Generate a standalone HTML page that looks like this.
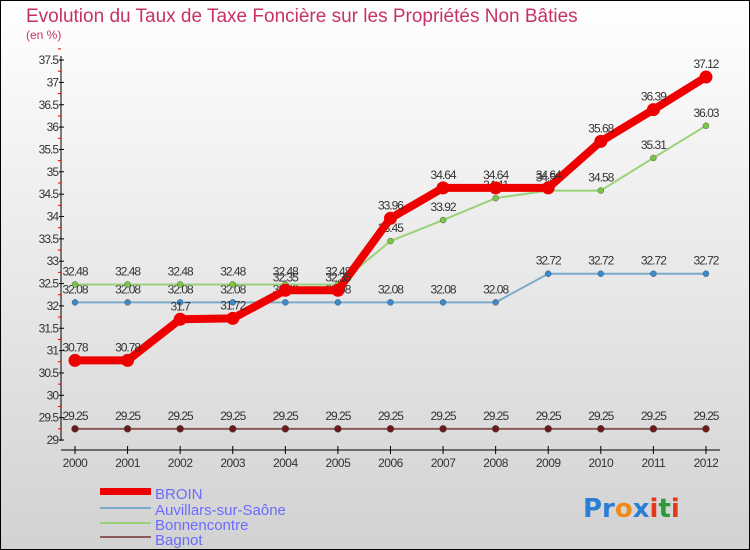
<!DOCTYPE html>
<html><head><meta charset="utf-8"><style>
body{margin:0}
#c{width:750px;height:550px;position:relative;box-sizing:border-box;border:1px solid #000;background:linear-gradient(#fff,#d2d2d2);font-family:"Liberation Sans",sans-serif;overflow:hidden}
</style></head><body>
<div id="c">
<svg id="s" width="750" height="550" style="position:absolute;left:-1px;top:-1px">
<text x="26" y="22" font-size="19" fill="#c8306a">Evolution du Taux de Taxe Foncière sur les Propriétés Non Bâties</text>
<text x="26" y="39" font-size="12" fill="#c8306a">(en %)</text>
<g id="axes"></g><g id="series"></g>
<g>
<rect x="100" y="488" width="51" height="7" fill="#e00"/>
<text x="155" y="499" font-size="15" fill="#6b6bff">BROIN</text>
<rect x="100" y="507" width="51" height="2" fill="#7aaccc"/>
<text x="155" y="515" font-size="15" fill="#6b6bff">Auvillars-sur-Saône</text>
<rect x="100" y="522" width="51" height="2" fill="#9ad27a"/>
<text x="155" y="530" font-size="15" fill="#6b6bff">Bonnencontre</text>
<rect x="100" y="536" width="51" height="2" fill="#8a5a5a"/>
<text x="155" y="545" font-size="15" fill="#6b6bff">Bagnot</text>
</g>
<text x="583" y="517" font-size="26" font-weight="bold" font-family="DejaVu Sans,sans-serif"><tspan fill="#2a7fd4">Pr</tspan><tspan fill="#f08a1a">o</tspan><tspan fill="#2a7fd4">x</tspan><tspan fill="#e03a1a">i</tspan><tspan fill="#2a9a3a">t</tspan><tspan fill="#e03a1a">i</tspan></text>
</svg>
</div>
<script>
const years=[2000,2001,2002,2003,2004,2005,2006,2007,2008,2009,2010,2011,2012];
const broin=[30.78,30.78,31.7,31.72,32.35,32.35,33.96,34.64,34.64,34.64,35.68,36.39,37.12];
const auvillars=[32.08,32.08,32.08,32.08,32.08,32.08,32.08,32.08,32.08,32.72,32.72,32.72,32.72];
const bonnencontre=[32.48,32.48,32.48,32.48,32.48,32.48,33.45,33.92,34.41,34.58,34.58,35.31,36.03];
const bagnot=[29.25,29.25,29.25,29.25,29.25,29.25,29.25,29.25,29.25,29.25,29.25,29.25,29.25];
const yTicks=[29,29.5,30,30.5,31,31.5,32,32.5,33,33.5,34,34.5,35,35.5,36,36.5,37,37.5];
const NS='http://www.w3.org/2000/svg';
const X=i=>75+i*52.58, Y=v=>440-(v-29)*44.7;
function mk(t,a,p){const e=document.createElementNS(NS,t);for(const k in a)e.setAttribute(k,a[k]);p.appendChild(e);return e;}
const ax=document.getElementById('axes'), sg=document.getElementById('series');
let l=mk('line',{x1:61,y1:56,x2:61,y2:441,stroke:'#000'},ax);

l=mk('line',{x1:61,y1:450,x2:720,y2:450,stroke:'#000'},ax);

yTicks.forEach(v=>{
 mk('line',{x1:59,y1:Y(v),x2:64,y2:Y(v),stroke:'#000'},ax);
 mk('line',{x1:58,y1:Y(v+0.25),x2:61,y2:Y(v+0.25),stroke:'#e00'},ax);
 const t=mk('text',{x:58,y:Y(v)+4,'font-size':12,fill:'#333','text-anchor':'end','letter-spacing':'-1'},ax);
 t.textContent=String(v);
 
});
years.forEach((y,i)=>{
 mk('line',{x1:X(i),y1:446,x2:X(i),y2:454,stroke:'#000'},ax);
 const t=mk('text',{x:X(i),y:467,'font-size':12,fill:'#333','text-anchor':'middle','letter-spacing':'-0.5'},ax);
 t.textContent=y;
 
});
function series(name,data,color,w,r,dot){
 const g=mk('g',{},sg);
 
 mk('polyline',{points:data.map((v,i)=>X(i)+','+Y(v)).join(' '),fill:'none',stroke:color,'stroke-width':w,'stroke-linejoin':'round'},g);
 data.forEach((v,i)=>{
  const c=mk('circle',{cx:X(i),cy:Y(v),r:r,fill:dot,stroke:dot==color?'none':'#555','stroke-width':0.5},g);
  
  const t=mk('text',{x:X(i),y:Y(v)-9,'font-size':12,fill:'#333','text-anchor':'middle','letter-spacing':'-1'},g);
  t.textContent=String(v);
  
 });
}
series('bagnot',bagnot,'#8a5a5a',2,3.5,'#6a1a1a');
series('auvillars',auvillars,'#7aaccc',2,3,'#3a8acc');
series('bonnencontre',bonnencontre,'#9ad27a',2,3,'#7ac840');
series('broin',broin,'#e00',8,6.5,'#e00');
</script>
</body></html>
